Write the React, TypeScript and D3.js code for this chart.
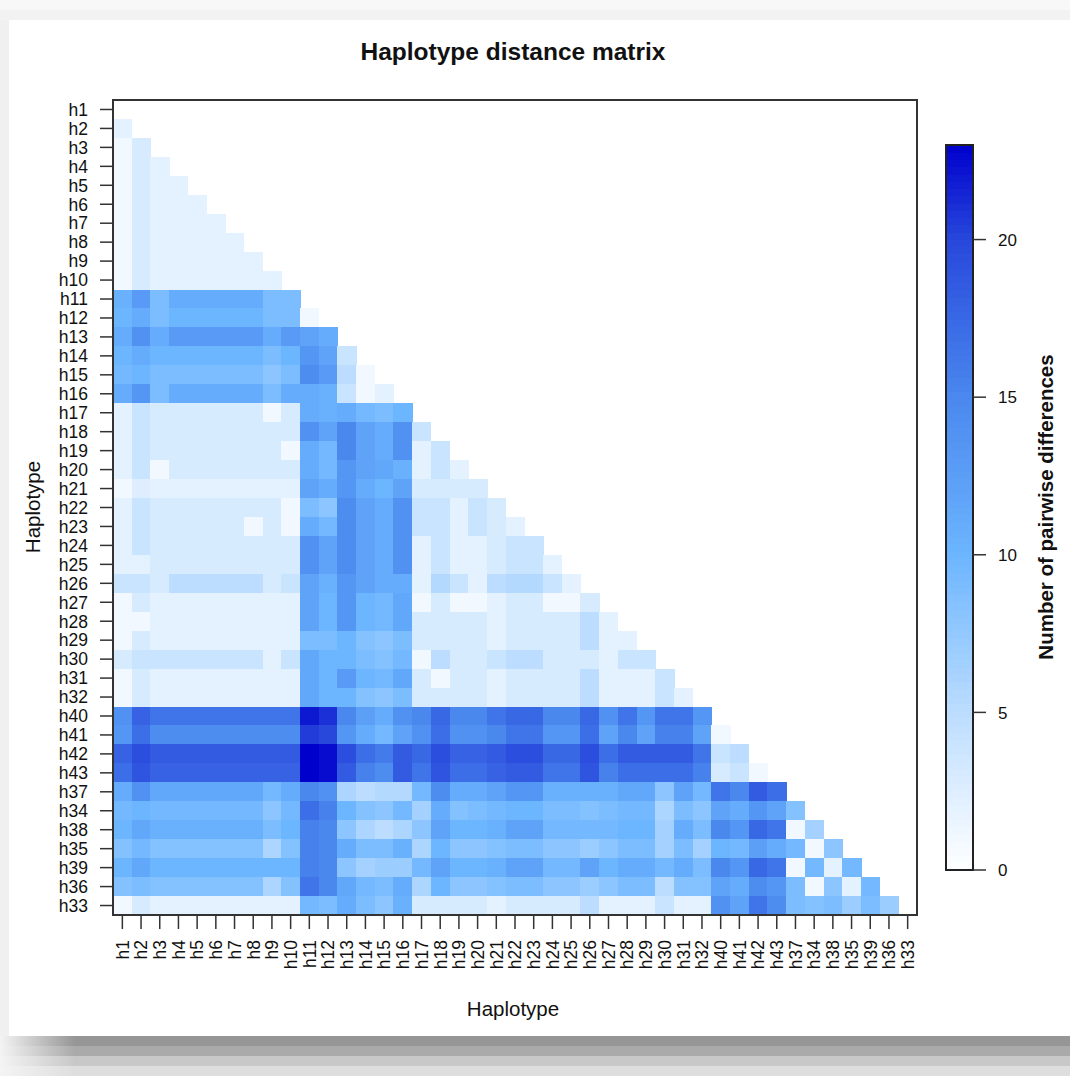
import React from 'react';
import * as d3 from 'd3';

const haplotypes = [
  'h1','h2','h3','h4','h5','h6','h7','h8','h9','h10',
  'h11','h12','h13','h14','h15','h16','h17','h18','h19','h20',
  'h21','h22','h23','h24','h25','h26','h27','h28','h29','h30',
  'h31','h32','h40','h41','h42','h43','h37','h34','h38','h35',
  'h39','h36','h33'
];

// lower triangle: row i holds distances to columns 0..i-1
const distanceRows: number[][] = [
  [],
  [2],
  [1,3],
  [1,3,2],
  [1,3,2,2],
  [1,3,2,2,2],
  [1,3,2,2,2,2],
  [1,3,2,2,2,2,2],
  [1,3,2,2,2,2,2,2],
  [1,3,2,2,2,2,2,2,2],
  [10.5,13,9,11,11,11,11,11,9,9],
  [10,11,9,10,10,10,10,10,9,9,1],
  [11,14,11,13,13,13,13,13,11,13,12,11],
  [10,11,10,10,10,10,10,10,9,10,13.5,12,4],
  [9.5,10,9,9,9,9,9,9,8,9,14.5,13,5,1],
  [11,13.5,9,11,11,11,11,11,9,11,11,10.5,4,1,2],
  [2,4,3,3,3,3,3,3,1,3,11,10.5,11,9.5,9,10],
  [2,4,3,3,3,3,3,3,3,3,14,12,15,12,11,14,4],
  [2,4,3,3,3,3,3,3,3,1,11,9.5,15,12,11,14,2,4],
  [2,4,1,3,3,3,3,3,3,3,11,9.5,13.5,12,11.5,10.5,2,4,2],
  [1,2.5,2,2,2,2,2,2,2,2,12,11,13.5,11,10,12,3,3,3,3],
  [2,4,3,3,3,3,3,3,3,1,9,8,14.5,12,11,14,4,4,2,4,3],
  [2,4,3,3,3,3,3,1,3,1,11,9.5,14.5,12,11,14,4,4,2,4,3,2],
  [2,4,3,3,3,3,3,3,3,3,14,12,14.5,12,11,14,2,4,2,2,3,4,4],
  [2,2,3,3,3,3,3,3,3,3,14,12,14.5,12,11,14,2,4,2,2,3,4,4,2],
  [4,4,3,5,5,5,5,5,3,4,12,10.5,13.5,12,11,11,2,5.5,4,2,5,5.5,5.5,4,2],
  [1,3,2,2,2,2,2,2,2,2,12,10,13.5,10,9.5,11.5,1,3,1,1,2,3,3,1,1,3],
  [1,1,2,2,2,2,2,2,2,2,12,10,13.5,10,9.5,11.5,3,3,3,3,2,3,3,3,3,5,2],
  [1,3,2,2,2,2,2,2,2,2,9,9,10,8.5,8,9,3,3,3,3,2,3,3,3,3,5,2,2],
  [3,4,4,4,4,4,4,4,2,4,11.5,10,10,9,8.5,9.5,1,5,3,3,4,5,5,3,3,3,2,4,4],
  [1,3,2,2,2,2,2,2,2,2,11.5,10,13,10,9.5,11.5,3,1,3,3,2,3,3,3,3,5,2,2,2,4],
  [1,3,2,2,2,2,2,2,2,2,11.5,10,10,8.5,8,9,3,3,3,3,2,3,3,3,3,5,2,2,2,4,2],
  [14,18,16.5,16.5,16.5,16.5,16.5,16.5,16.5,16.5,22,21,15,12.5,11,14,15,17.5,15,15,16.5,17.5,17.5,15,15,17.5,14,16.5,13.5,16.5,16.5,13.5],
  [13.5,17,14.5,14.5,14.5,14.5,14.5,14.5,14.5,14.5,20.5,20,13.5,11,9.5,12,14,17,14,14,15,16.5,16.5,13.5,13.5,17,12,15,12,15.5,15.5,12,1],
  [18,19.5,18.5,18.5,18.5,18.5,18.5,18.5,18.5,18.5,23,22.5,19.5,17,16,18.5,17.5,19.5,18,18,18.5,19.5,19.5,17.5,17.5,19.5,17,18.5,18.5,18.5,18.5,16.5,4,5],
  [17,19,18,18,18,18,18,18,18,18,23,22.5,18.5,15.5,14.5,18.5,16.5,19,17,17,18,18.5,18.5,16.5,16.5,19,15.5,17,17,17,17,15.5,3,4,1],
  [11,14,11.5,11.5,11.5,11.5,11.5,11.5,9.5,11,15,14,6,5,5.5,5.5,9.5,14.5,11,11,12,13.5,13.5,10.5,10.5,10.5,10.5,11.5,11.5,8,12,9.5,16.5,15,18.5,17],
  [9.5,10,9.5,9.5,9.5,9.5,9.5,9.5,8,9.5,17,15.5,10,8.5,8,9.5,6.5,11,8.5,9,9.5,10,10,9,9,8.5,9,9.5,9.5,6,9,8,12,11,13.5,12,8.5],
  [10,11.5,10.5,10.5,10.5,10.5,10.5,10.5,9,10,15.5,15,8,6,5,6,8,12,10,10,10.5,12,12,9.5,9.5,9.5,9.5,10,10,6.5,11,9,15,13.5,17.5,16.5,1,6.5],
  [8.5,9.5,8.5,8.5,8.5,8.5,8.5,8.5,6,8.5,15.5,15,11,9,9,10.5,6,10,8,8,8.5,9,9,8,8,7,8,9,9,6.5,9,6.5,10,9.5,12.5,11,9.5,1,8],
  [10,11.5,10,10,10,10,10,10,10,10,15.5,15,8,6.5,7,7,9.5,12,10,10,10.5,12,12,9.5,9.5,12,10,11,11,9.5,11,9,15,13.5,17.5,16.5,1,9.5,2,9.5],
  [8.5,9,8.5,8.5,8.5,8.5,8.5,8.5,6,8.5,16.5,15,11.5,9.5,9,11,6,10,8,8,8.5,9,9,8,8,7,8,9,9,5,8.5,8.5,12,11,14.5,13.5,9,1,8,2,9.5],
  [1,3,2,2,2,2,2,2,2,2,9.5,9,11,9,8,10.5,3,3,3,3,2,3,3,3,3,5,2,2,2,4,2,2,14,12,16.5,14.5,9,8.5,9,7,9,7]
];

const colorDomain = [0, 5, 10, 15, 20, 23];
const colorRange = ['#ffffff', '#bcddff', '#6cb5ff', '#4a88ee', '#2848dc', '#0000cc'];
const legendTicks = [0, 5, 10, 15, 20];
const legendMax = 23;

const W = 1070;
const H = 1076;
const FONT = 'Arial, "Liberation Sans", Helvetica, sans-serif';

export default function App() {
  const left = 113, right = 917, top = 100, bottom = 915;
  const x = d3.scaleBand<string>().domain(haplotypes).range([left, right]).padding(0);
  const y = d3.scaleBand<string>().domain(haplotypes).range([top, bottom]).padding(0);
  const color = d3.scaleLinear<string>().domain(colorDomain).range(colorRange).interpolate(d3.interpolateRgb).clamp(true);

  const cells: { r: string; c: string; v: number }[] = [];
  distanceRows.forEach((row, i) => {
    row.forEach((v, j) => cells.push({ r: haplotypes[i], c: haplotypes[j], v }));
  });

  const lgX = 946, lgW = 27, lgTop = 145, lgBottom = 870;
  const ly = d3.scaleLinear().domain([0, legendMax]).range([lgBottom, lgTop]);
  const legendSteps = d3.range(0, 100).map((k) => (k / 100) * legendMax);
  const stepH = (lgBottom - lgTop) / 100;

  const bands = [
    { y: 1036, c: '#969696' },
    { y: 1046, c: '#aaaaaa' },
    { y: 1056, c: '#c8c8c8' },
    { y: 1066, c: '#dedede' },
  ];

  return (
    <svg width={W} height={H} style={{ position: 'absolute', left: 0, top: 0, background: '#fff' }} fontFamily={FONT}>
      <defs>
        {bands.map((b, i) => (
          <linearGradient key={i} id={`band${i}`} gradientUnits="userSpaceOnUse" x1={0} y1={0} x2={75} y2={0}>
            <stop offset="0" stopColor="#f4f4f4" />
            <stop offset="1" stopColor={b.c} />
          </linearGradient>
        ))}
      </defs>
      <rect x={0} y={0} width={W} height={H} fill="#ffffff" />
      <rect x={0} y={0} width={W} height={10} fill="#f8f8f8" />
      <rect x={0} y={10} width={W} height={10} fill="#f2f2f2" />
      <rect x={0} y={20} width={9} height={1016} fill="#f0f0f0" />
      {bands.map((b, i) => (
        <rect key={i} x={0} y={b.y} width={W} height={10} fill={`url(#band${i})`} />
      ))}

      <text x={513} y={60} textAnchor="middle" fontSize={24.5} fontWeight="bold" fill="#111">
        Haplotype distance matrix
      </text>

      <g shapeRendering="crispEdges">
        {cells.map((d, k) => (
          <rect
            key={k}
            x={x(d.c)!}
            y={y(d.r)!}
            width={x.bandwidth() + 0.6}
            height={y.bandwidth() + 0.6}
            fill={color(d.v)}
          />
        ))}
      </g>

      <rect x={left} y={top} width={right - left} height={bottom - top} fill="none" stroke="#333" strokeWidth={2} />

      {haplotypes.map((h) => {
        const cy = y(h)! + y.bandwidth() / 2;
        return (
          <g key={'y' + h}>
            <line x1={left - 13} x2={left} y1={cy} y2={cy} stroke="#333" strokeWidth={1.5} />
            <text x={88} y={cy} dy="0.36em" textAnchor="end" fontSize={17.5} fill="#111">{h}</text>
          </g>
        );
      })}
      {haplotypes.map((h) => {
        const cx = x(h)! + x.bandwidth() / 2;
        return (
          <g key={'x' + h}>
            <line x1={cx} x2={cx} y1={bottom} y2={bottom + 14} stroke="#333" strokeWidth={1.5} />
            <text
              x={cx}
              y={940}
              dy="0.36em"
              textAnchor="end"
              fontSize={17.5}
              fill="#111"
              transform={`rotate(-90, ${cx}, 940)`}
            >
              {h}
            </text>
          </g>
        );
      })}

      <text x={513} y={1016} textAnchor="middle" fontSize={20.5} fill="#111">Haplotype</text>
      <text x={0} y={0} textAnchor="middle" fontSize={20.5} fill="#111" transform={`translate(40, 507) rotate(-90)`}>
        Haplotype
      </text>

      <g shapeRendering="crispEdges">
        {legendSteps.map((v, k) => (
          <rect key={k} x={lgX} y={lgBottom - (k + 1) * stepH} width={lgW} height={stepH + 0.6} fill={color(v + legendMax / 200)} />
        ))}
      </g>
      <rect x={lgX} y={lgTop} width={lgW} height={lgBottom - lgTop} fill="none" stroke="#222" strokeWidth={2} />
      {legendTicks.map((t) => (
        <g key={'l' + t}>
          <line x1={lgX + lgW} x2={lgX + lgW + 13} y1={ly(t)} y2={ly(t)} stroke="#333" strokeWidth={1.5} />
          <text x={998} y={ly(t)} dy="0.36em" fontSize={17} fill="#111">{t}</text>
        </g>
      ))}
      <text x={0} y={0} textAnchor="middle" fontSize={20.5} fontWeight="bold" fill="#111" transform={`translate(1053, 507) rotate(-90)`}>
        Number of pairwise differences
      </text>
    </svg>
  );
}
